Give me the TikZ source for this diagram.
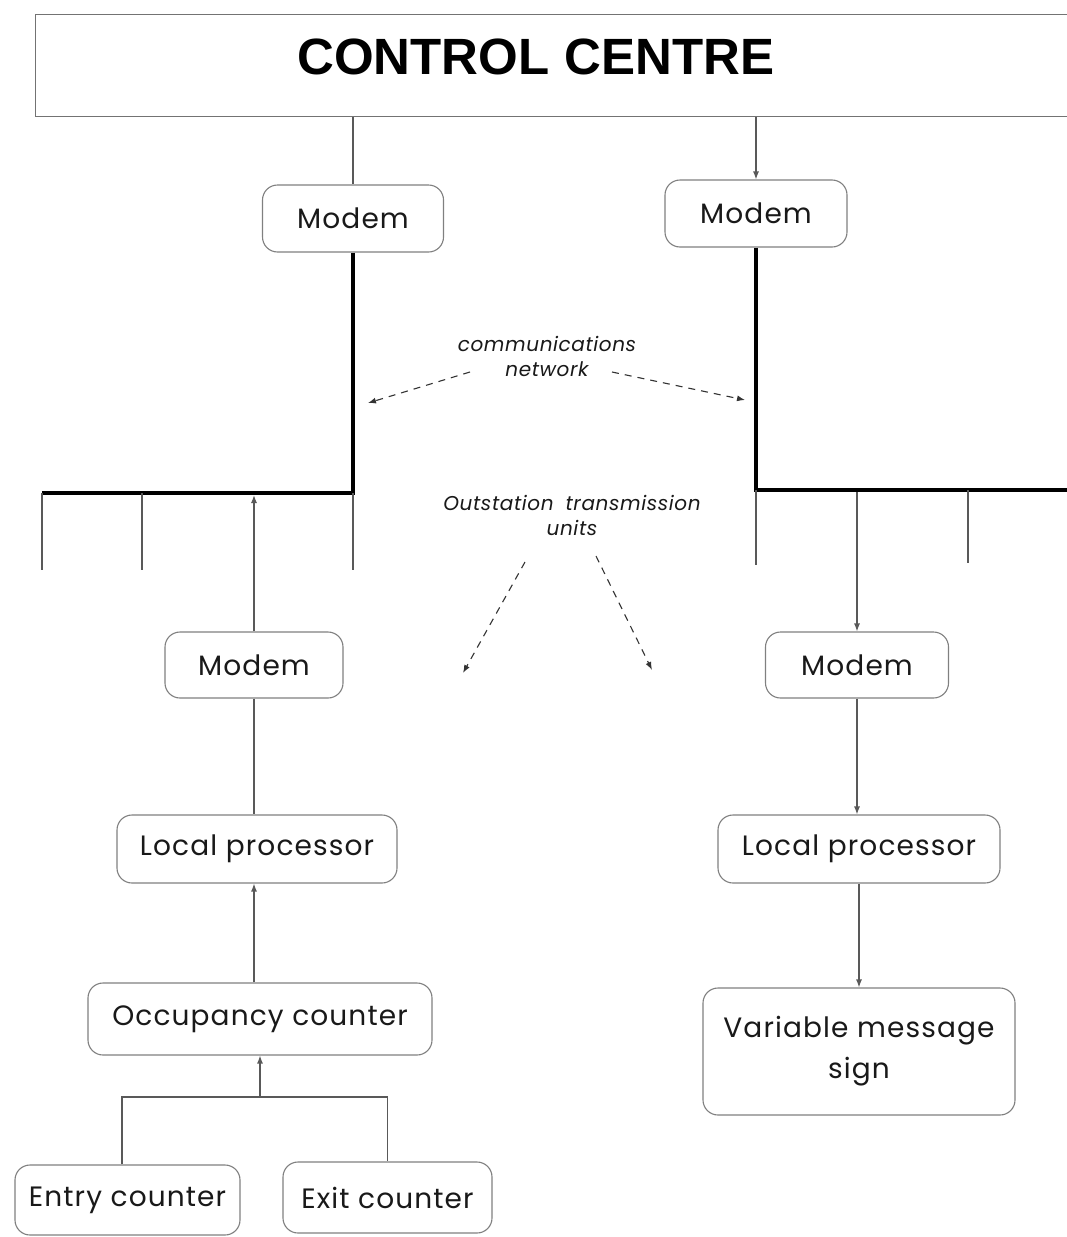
\documentclass[tikz,border=0pt]{standalone}
\usepackage{fontspec}
\setmainfont{Poppins}[LetterSpace=4]
\newfontfamily\ccfont{Liberation Sans}
\newfontfamily\lblfont{Poppins}[LetterSpace=3]
\usetikzlibrary{arrows.meta}
\begin{document}
\begin{tikzpicture}[x=1pt,y=-1pt,
  box/.style={draw=black!50, line width=1.1pt, rounded corners=15pt, inner sep=0pt,
    font=\fontsize{28}{41}\selectfont, text=black!90, align=center},
  conn/.style={draw=black!65, line width=1.2pt},
  arr/.style={conn, -{Latex[length=8pt,width=6pt]}},
  busline/.style={draw=black, line width=4pt},
  lbl/.style={font=\lblfont\itshape\fontsize{20}{25}\selectfont, align=center, text=black!90},
  dasharr/.style={draw=black!80, line width=1.1pt, dash pattern=on 7pt off 6pt,
    -{Latex[length=8pt,width=6pt]}}]

\useasboundingbox (0,0) rectangle (1067,1237);
\fill[white] (0,0) rectangle (1067,1237);
\clip (0,0) rectangle (1067,1237);

% control centre
\node[draw=black!55, line width=1.1pt, minimum width=1080pt, minimum height=102pt,
      anchor=north west, inner sep=0pt] (cc) at (35,14) {};
\node[font=\ccfont\bfseries\fontsize{51}{60}\selectfont] (cctext) at (536,57) {CONTROL\hspace{0.3em}CENTRE};

% boxes
\node[box, minimum width=181pt, minimum height=67pt] (m1) at (353,218.5) {Modem};
\node[box, minimum width=182pt, minimum height=67pt] (m2) at (756,213.5) {Modem};
\node[box, minimum width=178pt, minimum height=66pt] (m3) at (254,665) {Modem};
\node[box, minimum width=183pt, minimum height=66pt] (m4) at (857,665) {Modem};
\node[box, minimum width=280pt, minimum height=68pt] (lp1) at (257,849) {Local processor};
\node[box, minimum width=282pt, minimum height=68pt] (lp2) at (859,849) {Local processor};
\node[box, minimum width=344pt, minimum height=72pt] (occ) at (260,1019) {Occupancy counter};
\node[box, minimum width=225pt, minimum height=70pt] (entry) at (127.5,1200) {Entry counter};
\node[box, minimum width=209pt, minimum height=71pt] (exit) at (387.5,1197.5) {Exit counter};
\node[box, minimum width=312pt, minimum height=127pt] (vms) at (859,1051.5) {Variable message\\sign};

% labels
\node[lbl] (cn) at (547,356) {communications\\network};
\node[lbl] (ot) at (572,515) {Outstation\hspace{0.6em}transmission\\units};

% control centre to modems
\draw[conn] (cc.south -| m1.north) -- (m1.north);
\draw[arr] (cc.south -| m2.north) -- (m2.north);

% buses
\coordinate (busL) at (42,493);
\coordinate (busR) at (1067,490);
\draw[busline] (m1.south) -- (m1.south |- busL) -- (busL);
\draw[busline] (m2.south) -- (m2.south |- busR) -- (busR);

% drops from buses
\coordinate (tL1) at (42,570);
\coordinate (tL2) at (142,570);
\coordinate (tL4) at (353,570);
\coordinate (tR1) at (756,565);
\coordinate (tR3) at (968,563);
\draw[conn] (tL1 |- busL) -- (tL1);
\draw[conn] (tL2 |- busL) -- (tL2);
\draw[conn] (tL4 |- busL) -- (tL4);
\draw[conn] (tR1 |- busR) -- (tR1);
\draw[conn] (tR3 |- busR) -- (tR3);

% left outstation
\draw[arr, shorten >=2pt] (m3.north) -- (m3.north |- busL);
\draw[conn] (m3.south) -- (m3.south |- lp1.north);
\draw[arr] (occ.north -| m3.south) -- (lp1.south -| m3.south);
\coordinate (j) at (260,1097);
\draw[arr] (j) -- (j |- occ.south);
\draw[conn] (entry.north -| 122,0) -- (122,1097) -- (exit.north |- j) -- (exit.north);

% right outstation
\draw[arr, shorten <=2pt] (m4.north |- busR) -- (m4.north);
\draw[arr] (m4.south) -- (m4.south |- lp2.north);
\draw[arr] (lp2.south) -- (lp2.south |- vms.north);

% dashed pointers
\coordinate (cnL) at (470,372);
\coordinate (cnLe) at (368,403);
\coordinate (cnR) at (612,372);
\coordinate (cnRe) at (745,400);
\draw[dasharr] (cnL) -- (cnLe);
\draw[dasharr] (cnR) -- (cnRe);
\coordinate (otL) at (525,562);
\coordinate (otLe) at (463,673);
\coordinate (otR) at (596,556);
\coordinate (otRe) at (652,670);
\draw[dasharr] (otL) -- (otLe);
\draw[dasharr] (otR) -- (otRe);
\end{tikzpicture}
\end{document}
